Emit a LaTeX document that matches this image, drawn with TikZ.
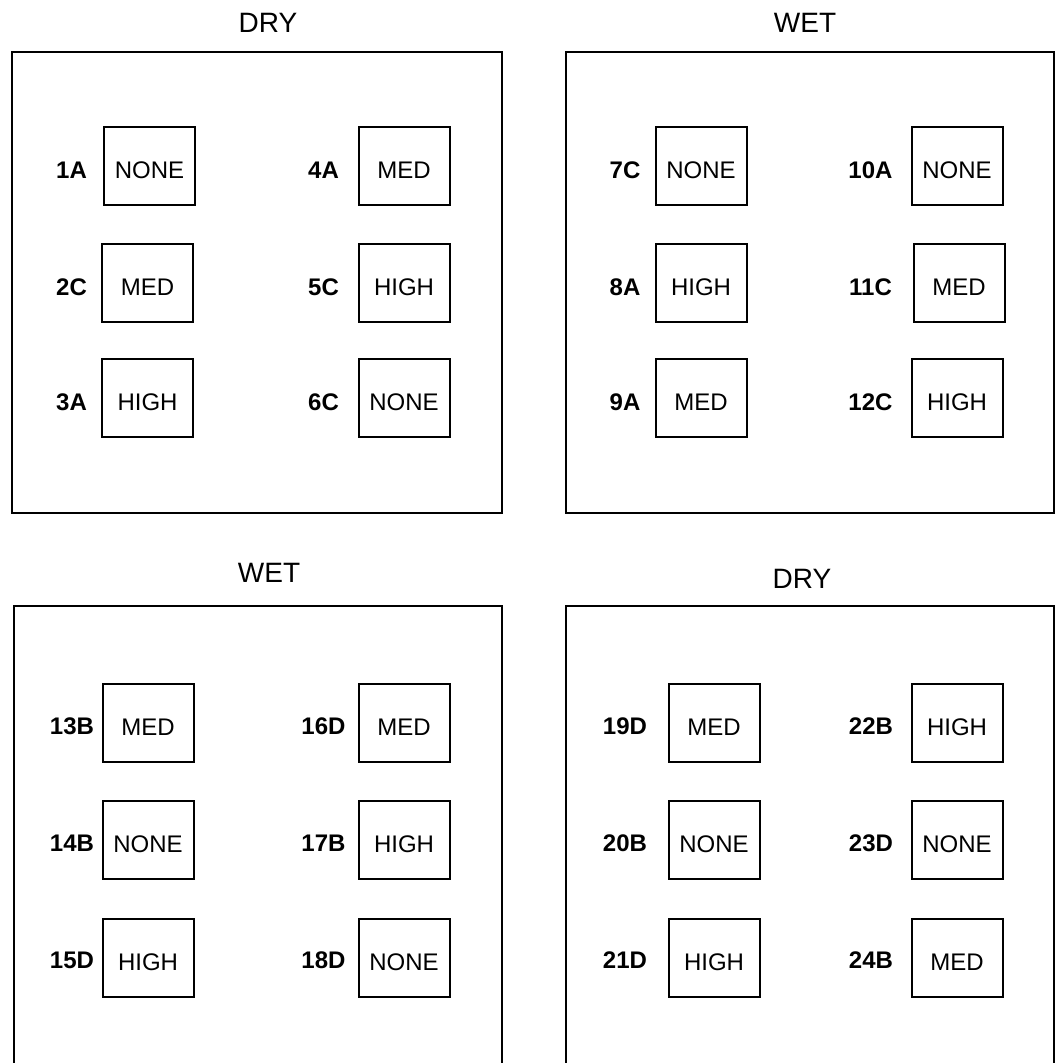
\documentclass[tikz,border=0pt]{standalone}
\usepackage{fontspec}
\setmainfont{Liberation Sans}

\begin{document}
\begin{tikzpicture}[
    x=1pt, y=-1pt,
    frame/.style={line width=2pt},
    level/.style={rectangle, draw, line width=2pt,
                  minimum width=91pt, minimum height=78pt, inner sep=0pt,
                  text height=25pt, text depth=0pt,
                  font=\fontsize{24}{29}\selectfont},
    plotid/.style={inner sep=0pt, font=\bfseries\fontsize{24}{29}\selectfont},
    cond/.style={inner sep=0pt, font=\fontsize{28}{34}\selectfont},
  ]
    \useasboundingbox (0,0) rectangle (1058,1063);

    % Top left: dry
    \node[cond] (dryA) at (268,23) {DRY};
    \draw[frame] (12,52) rectangle (502,513);
    \node[level] (s1) at (149.5,166) {NONE};
    \node[plotid] (p1) at (71.5,170) {1A};
    \node[level] (s2) at (147.5,283) {MED};
    \node[plotid] (p2) at (71.5,287) {2C};
    \node[level] (s3) at (147.5,398) {HIGH};
    \node[plotid] (p3) at (71.5,402) {3A};
    \node[level] (s4) at (404,166) {MED};
    \node[plotid] (p4) at (323.5,170) {4A};
    \node[level] (s5) at (404,283) {HIGH};
    \node[plotid] (p5) at (323.5,287) {5C};
    \node[level] (s6) at (404,398) {NONE};
    \node[plotid] (p6) at (323.5,402) {6C};

    % Top right: wet
    \node[cond] (wetA) at (805,22.5) {WET};
    \draw[frame] (566,52) rectangle (1054,513);
    \node[level] (s7) at (701,166) {NONE};
    \node[plotid] (p7) at (625,170) {7C};
    \node[level] (s8) at (701,283) {HIGH};
    \node[plotid] (p8) at (625,287) {8A};
    \node[level] (s9) at (701,398) {MED};
    \node[plotid] (p9) at (625,402) {9A};
    \node[level] (s10) at (957,166) {NONE};
    \node[plotid] (p10) at (870.5,170) {10A};
    \node[level] (s11) at (959,283) {MED};
    \node[plotid] (p11) at (870.5,287) {11C};
    \node[level] (s12) at (957,398) {HIGH};
    \node[plotid] (p12) at (870.5,402) {12C};

    % Bottom left: wet
    \node[cond] (wetB) at (269,572.5) {WET};
    \draw[frame] (14,1063) |- (502,606) -- (502,1063);
    \node[level] (s13) at (148,723) {MED};
    \node[plotid] (p13) at (72,726) {13B};
    \node[level] (s14) at (148,840) {NONE};
    \node[plotid] (p14) at (72,843) {14B};
    \node[level] (s15) at (148,957.5) {HIGH};
    \node[plotid] (p15) at (72,960.5) {15D};
    \node[level] (s16) at (404,723) {MED};
    \node[plotid] (p16) at (323.5,726) {16D};
    \node[level] (s17) at (404,840) {HIGH};
    \node[plotid] (p17) at (323.5,843) {17B};
    \node[level] (s18) at (404,957.5) {NONE};
    \node[plotid] (p18) at (323.5,960.5) {18D};

    % Bottom right: dry
    \node[cond] (dryB) at (802,579) {DRY};
    \draw[frame] (566,1063) |- (1054,606) -- (1054,1063);
    \node[level] (s19) at (714,723) {MED};
    \node[plotid] (p19) at (625,726) {19D};
    \node[level] (s20) at (714,840) {NONE};
    \node[plotid] (p20) at (625,843) {20B};
    \node[level] (s21) at (714,957.5) {HIGH};
    \node[plotid] (p21) at (625,960.5) {21D};
    \node[level] (s22) at (957,723) {HIGH};
    \node[plotid] (p22) at (871,726) {22B};
    \node[level] (s23) at (957,840) {NONE};
    \node[plotid] (p23) at (871,843) {23D};
    \node[level] (s24) at (957,957.5) {MED};
    \node[plotid] (p24) at (871,960.5) {24B};
  \end{tikzpicture}
\end{document}
